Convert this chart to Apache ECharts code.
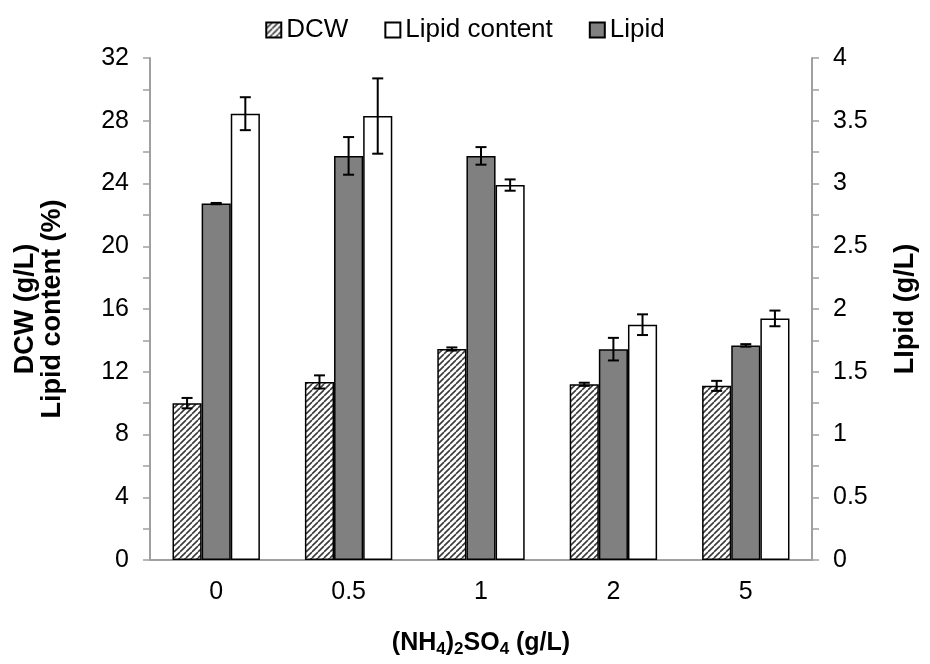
<!DOCTYPE html>
<html>
<head>
<meta charset="utf-8">
<script src="https://cdn.jsdelivr.net/npm/echarts@6/dist/echarts.min.js"></script>
<style>
  html, body { margin: 0; padding: 0; background: #fff; }
  #chart { width: 930px; height: 664px; }
</style>
</head>
<body>
<div id="chart"></div>
<script>
const categories = ['0', '0.5', '1', '2', '5']
const dcw = [10.0, 11.35, 13.45, 11.2, 11.1]
const dcwErr = [0.33, 0.42, 0.1, 0.1, 0.32]
const lipidContent = [28.45, 28.3, 23.9, 15.0, 15.4]
const lipidContentErr = [1.05, 2.4, 0.36, 0.66, 0.5]
const lipid = [2.84, 3.22, 3.22, 1.68, 1.71]
const lipidErr = [0.005, 0.15, 0.07, 0.09, 0.01]

const FONT = "'Liberation Sans', Arial, sans-serif"
const BAR_FRAC = 0.22
const AXIS_GRAY = '#a0a0a0'

// diagonal hatch for DCW bars
function hatch() {
  const c = document.createElement('canvas')
  c.width = 6
  c.height = 6
  const ctx = c.getContext('2d')
  ctx.fillStyle = '#fff'
  ctx.fillRect(0, 0, 6, 6)
  ctx.strokeStyle = '#3a3a3a'
  ctx.lineWidth = 1.6
  ctx.beginPath()
  for (const o of [-6, 0, 6]) {
    ctx.moveTo(o, 6)
    ctx.lineTo(o + 6, 0)
  }
  ctx.stroke()
  return { image: c, repeat: 'repeat' }
}

function errorBars(offsetIndex) {
  return function (params, api) {
    const x = api.value(0)
    const y = api.value(1)
    const e = api.value(2)
    const band = api.size([1, 0])[0]
    const shift = band * BAR_FRAC * offsetIndex
    const hi = api.coord([x, y + e])
    const lo = api.coord([x, y - e])
    const cx = hi[0] + shift
    const style = { stroke: '#000', lineWidth: 2 }
    return {
      type: 'group',
      children: [
        { type: 'line', shape: { x1: cx, y1: hi[1], x2: cx, y2: lo[1] }, style },
        { type: 'line', shape: { x1: cx - 5.5, y1: hi[1], x2: cx + 5.5, y2: hi[1] }, style },
        { type: 'line', shape: { x1: cx - 5.5, y1: lo[1], x2: cx + 5.5, y2: lo[1] }, style }
      ]
    }
  }
}

function errData(vals, errs) {
  return vals.map((v, i) => [i, v, errs[i]])
}

const chart = echarts.init(document.getElementById('chart'))
chart.setOption({
  backgroundColor: '#fff',
  textStyle: { fontFamily: FONT, color: '#000' },
  animation: false,
  legend: {
    top: 12,
    left: 'center',
    icon: 'rect',
    itemWidth: 15,
    itemHeight: 15,
    itemGap: 36,
    data: ['DCW', 'Lipid content', 'Lipid'],
    textStyle: { fontSize: 26, color: '#000', fontFamily: FONT }
  },
  grid: { left: 150, right: 118, top: 58, bottom: 104, outerBoundsMode: 'none', containLabel: false },
  xAxis: {
    type: 'category',
    data: categories,
    name: '{b|(NH}{s|4}{b|)}{s|2}{b|SO}{s|4}{b| (g/L)}',
    nameLocation: 'middle',
    nameGap: 69,
    nameTextStyle: {
      rich: {
        b: { fontSize: 25, fontWeight: 'bold', fontFamily: FONT, color: '#000' },
        s: { fontSize: 17, fontWeight: 'bold', fontFamily: FONT, color: '#000', padding: [12, 0, 0, 0] }
      }
    },
    axisLine: { lineStyle: { color: AXIS_GRAY, width: 2 } },
    axisTick: { inside: true, length: 6, lineStyle: { color: AXIS_GRAY, width: 1.5 } },
    axisLabel: { fontSize: 25, color: '#000', margin: 20 }
  },
  yAxis: [
    {
      type: 'value',
      min: 0,
      max: 32,
      interval: 4,
      name: 'DCW (g/L)\nLipid content (%)',
      nameLocation: 'middle',
      nameRotate: 90,
      nameGap: 84,
      nameTextStyle: { fontSize: 27, fontWeight: 'bold', color: '#000', lineHeight: 27 },
      axisLine: { show: true, lineStyle: { color: AXIS_GRAY, width: 2 } },
      axisTick: { show: true, length: 7, lineStyle: { color: AXIS_GRAY, width: 1.5 } },
      minorTick: { show: true, splitNumber: 2, length: 7, lineStyle: { color: AXIS_GRAY, width: 1.5 } },
      axisLabel: { fontSize: 25, color: '#000', margin: 21 },
      splitLine: { show: false }
    },
    {
      type: 'value',
      min: 0,
      max: 4,
      interval: 0.5,
      name: 'LIpid (g/L)',
      nameLocation: 'middle',
      nameRotate: 90,
      nameGap: 80,
      nameTextStyle: { fontSize: 27, fontWeight: 'bold', color: '#000' },
      axisLine: { show: true, lineStyle: { color: AXIS_GRAY, width: 2 } },
      axisTick: { show: true, length: 7, lineStyle: { color: AXIS_GRAY, width: 1.5 } },
      minorTick: { show: true, splitNumber: 2, length: 7, lineStyle: { color: AXIS_GRAY, width: 1.5 } },
      axisLabel: { fontSize: 25, color: '#000', margin: 21 },
      splitLine: { show: false }
    }
  ],
  series: [
    {
      name: 'DCW',
      type: 'bar',
      data: dcw,
      barWidth: BAR_FRAC * 100 + '%',
      barGap: '0%',
      itemStyle: { color: hatch(), borderColor: '#000', borderWidth: 1.5 }
    },
    {
      name: 'Lipid',
      type: 'bar',
      yAxisIndex: 1,
      data: lipid,
      barWidth: BAR_FRAC * 100 + '%',
      barGap: '0%',
      itemStyle: { color: '#808080', borderColor: '#000', borderWidth: 1.5 }
    },
    {
      name: 'Lipid content',
      type: 'bar',
      data: lipidContent,
      barWidth: BAR_FRAC * 100 + '%',
      barGap: '0%',
      itemStyle: { color: '#fff', borderColor: '#000', borderWidth: 1.5 }
    },
    {
      type: 'custom',
      renderItem: errorBars(-1),
      data: errData(dcw, dcwErr),
      z: 10,
      silent: true
    },
    {
      type: 'custom',
      yAxisIndex: 1,
      renderItem: errorBars(0),
      data: errData(lipid, lipidErr),
      z: 10,
      silent: true
    },
    {
      type: 'custom',
      renderItem: errorBars(1),
      data: errData(lipidContent, lipidContentErr),
      z: 10,
      silent: true
    }
  ]
})
</script>
</body>
</html>
